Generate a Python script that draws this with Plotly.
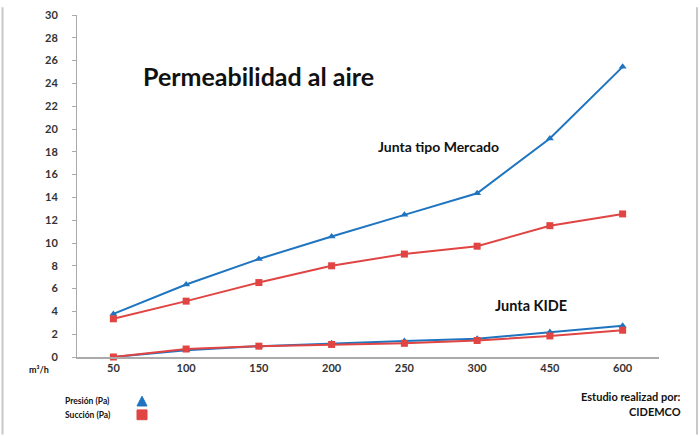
import plotly.graph_objects as go

categories = ["50", "100", "150", "200", "250", "300", "450", "600"]
mercado_presion = [3.78, 6.36, 8.6, 10.57, 12.47, 14.36, 19.17, 25.45]
mercado_succion = [3.35, 4.9, 6.53, 8.0, 9.03, 9.72, 11.52, 12.55]
kide_presion = [0.0, 0.6, 0.95, 1.2, 1.4, 1.6, 2.2, 2.75]
kide_succion = [0.0, 0.7, 0.95, 1.1, 1.2, 1.45, 1.85, 2.35]

BLUE = "#1f74c0"
RED = "#e04443"
FONT = "Lato"

fig = go.Figure()
for vals, col, sym, size in [
    (mercado_presion, BLUE, "triangle-up", 7),
    (mercado_succion, RED, "square", 7),
    (kide_presion, BLUE, "triangle-up", 7),
    (kide_succion, RED, "square", 7),
]:
    fig.add_trace(go.Scatter(x=categories, y=vals, mode="lines+markers",
                             line=dict(color=col, width=2),
                             marker=dict(symbol=sym, size=size, color=col),
                             showlegend=False, cliponaxis=False))

fig.update_layout(
    width=700, height=436,
    margin=dict(l=77, r=41, t=8, b=79),
    paper_bgcolor="white", plot_bgcolor="white",
    font=dict(family=FONT, size=11, color="#222222"),
    xaxis=dict(type="category", showgrid=False, showline=True, linecolor="#aaaaaa",
               linewidth=1.5, ticks="", tickfont=dict(size=11, family=FONT, weight="bold", color="#333"),
               range=[-0.5, 7.5], zeroline=False),
    yaxis=dict(range=[0, 30], dtick=2, showgrid=False, showline=True, linecolor="#aaaaaa",
               linewidth=1, ticks="outside", ticklen=4, tickcolor="#aaaaaa",
               ticklabelstandoff=12,
               tickfont=dict(size=11, family=FONT, weight="bold", color="#333"),
               zeroline=False),
)

def ann(text, x, y, size, xanchor="left", color="#111"):
    fig.add_annotation(text=text, x=x, y=y, xref="paper", yref="paper",
                       xanchor=xanchor, yanchor="middle", showarrow=False,
                       font=dict(family=FONT, size=size, color=color, weight="bold"))

W = 700 - 77 - 41
H = 436 - 8 - 79
def px(x): return (x - 77) / W
def py(y): return (357 - y) / H

ann("Permeabilidad al aire", px(141), py(70), 25)
ann("Junta tipo Mercado", px(376), py(142), 14)
ann("Junta KIDE", px(493), py(304), 14.5)
ann("m³/h", px(27), py(370), 9)
ann("Presión (Pa)", px(63), py(402), 8.5)
ann("Succión (Pa)", px(63), py(416), 8.5)
ann("Estudio realizad por:", px(683), py(397), 11, xanchor="right")
ann("CIDEMCO", px(683), py(413), 11, xanchor="right")

# legend symbols
tri = f"M {px(137)} {py(407)} L {px(147)} {py(407)} L {px(142)} {py(397)} Z"
fig.add_shape(type="path", xref="paper", yref="paper", path=tri,
              fillcolor=BLUE, line=dict(color=BLUE, width=1))
fig.add_shape(type="rect", xref="paper", yref="paper", x0=px(137), x1=px(147),
              y0=py(421), y1=py(411), fillcolor=RED, line=dict(color=RED, width=1))

for xx in (2.5, 697):
    fig.add_shape(type="line", xref="paper", yref="paper", x0=px(xx), x1=px(xx),
                  y0=py(0), y1=py(436), line=dict(color="#c8c8c8", width=2))

fig.write_html("out.html")
